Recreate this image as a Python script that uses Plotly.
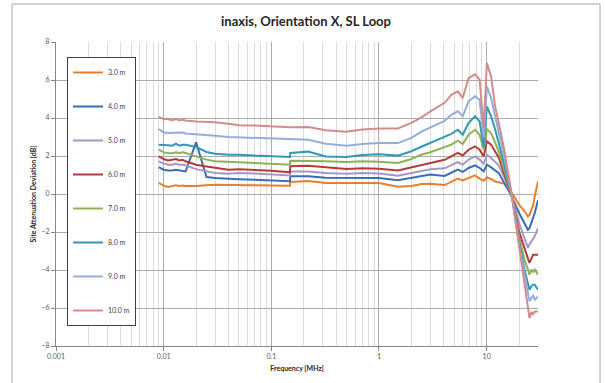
import plotly.graph_objects as go
import math

# Frequency points (MHz)
freq_mhz = [0.009, 0.01, 0.011, 0.012, 0.013, 0.014, 0.015, 0.016, 0.02, 0.025,
            0.03, 0.04, 0.05, 0.07, 0.1, 0.149, 0.15, 0.22, 0.32, 0.5,
            0.7, 1.0, 1.5, 2.0, 2.5, 3.0, 4.07, 4.7, 5.4, 6.0,
            6.8, 7.8, 8.6, 9.4, 10.05, 11.0, 12.0, 13.0, 14.5, 17.0,
            20.0, 22.5, 24.2, 25.0, 26.1, 27.0, 28.0, 30.0]

dev_3m = [0.58, 0.44, 0.37, 0.42, 0.46, 0.42, 0.45, 0.42, 0.42, 0.46,
          0.49, 0.47, 0.47, 0.47, 0.45, 0.44, 0.63, 0.68, 0.58, 0.58,
          0.60, 0.58, 0.38, 0.42, 0.52, 0.54, 0.47, 0.63, 0.81, 0.72,
          0.84, 0.98, 0.81, 0.70, 0.88, 0.79, 0.66, 0.60, 0.55, 0.10,
          -0.56, -0.91, -1.18, -1.10, -0.83, -0.60, -0.12, 0.66]

dev_4m = [1.42, 1.28, 1.24, 1.24, 1.28, 1.24, 1.24, 1.19, 2.72, 0.89,
          0.84, 0.79, 0.78, 0.75, 0.72, 0.67, 0.93, 0.93, 0.86, 0.86,
          0.87, 0.84, 0.72, 0.84, 0.96, 1.02, 0.95, 1.10, 1.28, 1.16,
          1.37, 1.51, 1.37, 1.19, 1.54, 1.40, 1.25, 1.10, 0.60, -0.10,
          -1.00, -1.50, -1.88, -1.80, -1.53, -1.30, -1.00, -0.33]

dev_5m = [1.72, 1.60, 1.54, 1.54, 1.60, 1.54, 1.54, 1.50, 1.31, 1.19,
          1.10, 1.07, 1.10, 1.08, 1.05, 0.98, 1.19, 1.19, 1.11, 1.07,
          1.11, 1.08, 0.96, 1.10, 1.22, 1.30, 1.35, 1.54, 1.68, 1.54,
          1.81, 1.98, 1.81, 1.58, 2.07, 1.89, 1.70, 1.50, 0.90, -0.05,
          -1.53, -2.30, -2.84, -2.65, -2.49, -2.35, -2.23, -1.79]

dev_6m = [1.98, 1.84, 1.77, 1.80, 1.84, 1.77, 1.80, 1.72, 1.54, 1.45,
          1.37, 1.28, 1.30, 1.27, 1.23, 1.14, 1.46, 1.49, 1.40, 1.32,
          1.35, 1.33, 1.24, 1.40, 1.55, 1.65, 1.80, 1.98, 2.16, 2.03,
          2.33, 2.51, 2.33, 1.98, 2.77, 2.60, 2.20, 1.90, 1.10, 0.00,
          -1.97, -2.93, -3.40, -3.63, -3.35, -3.20, -3.20, -3.20]

dev_7m = [2.33, 2.19, 2.16, 2.14, 2.19, 2.16, 2.19, 2.16, 1.98, 1.81,
          1.72, 1.67, 1.67, 1.63, 1.60, 1.54, 1.75, 1.75, 1.72, 1.68,
          1.72, 1.70, 1.63, 1.84, 2.08, 2.20, 2.45, 2.60, 2.81, 2.63,
          3.12, 3.38, 3.12, 2.33, 3.43, 3.20, 2.70, 2.20, 1.30, 0.05,
          -2.23, -3.46, -3.98, -4.25, -3.98, -4.10, -3.98, -4.25]

dev_8m = [2.59, 2.59, 2.56, 2.54, 2.65, 2.54, 2.59, 2.59, 2.47, 2.21,
          2.12, 2.07, 2.07, 2.02, 1.98, 1.95, 2.16, 2.23, 1.98, 1.95,
          2.05, 2.09, 2.02, 2.25, 2.50, 2.70, 3.00, 3.16, 3.38, 3.12,
          3.74, 4.09, 3.82, 2.50, 4.61, 4.09, 3.40, 2.70, 1.60, 0.05,
          -2.49, -3.98, -4.69, -5.04, -4.85, -4.77, -4.77, -5.04]

dev_9m = [3.42, 3.24, 3.21, 3.21, 3.24, 3.21, 3.24, 3.19, 3.16, 3.12,
          3.07, 3.00, 2.98, 2.95, 2.91, 2.86, 2.86, 2.86, 2.65, 2.54,
          2.63, 2.68, 2.68, 2.95, 3.30, 3.50, 3.85, 4.17, 4.35, 4.09,
          4.88, 5.14, 4.96, 2.95, 5.66, 5.05, 4.00, 3.20, 2.00, 0.05,
          -2.67, -4.33, -5.30, -5.65, -5.45, -5.35, -5.56, -5.39]

dev_10m = [4.05, 3.95, 3.95, 3.87, 3.95, 3.87, 3.91, 3.87, 3.82, 3.80,
           3.77, 3.70, 3.62, 3.60, 3.56, 3.51, 3.51, 3.53, 3.35, 3.28,
           3.39, 3.45, 3.45, 3.74, 4.05, 4.35, 4.80, 5.22, 5.40, 5.05,
           6.10, 6.30, 6.02, 3.50, 6.89, 6.19, 4.60, 3.70, 2.40, 0.05,
           -2.84, -4.86, -6.09, -6.53, -6.20, -6.35, -6.18, -6.18]

series_names = ["3.0 m", "4.0 m", "5.0 m", "6.0 m", "7.0 m", "8.0 m", "9.0 m", "10.0 m"]
series_values = [dev_3m, dev_4m, dev_5m, dev_6m, dev_7m, dev_8m, dev_9m, dev_10m]
series_colors = ["#E97F2E", "#3B6CB4", "#A597C7", "#B13C3A",
                 "#8DB255", "#3399B3", "#93AEDB", "#D38C8C"]

x_tick_vals = [0.001, 0.01, 0.1, 1, 10]
x_tick_text = ["0.001", "0.01", "0.1", "1", "10"]
y_tick_vals = [-8, -6, -4, -2, 0, 2, 4, 6, 8]

FONT = "Lato, 'Open Sans', sans-serif"

fig = go.Figure()
for name, vals, col in zip(series_names, series_values, series_colors):
    fig.add_trace(go.Scatter(
        x=freq_mhz, y=vals, mode="lines", name=name, legendgroup=name,
        line=dict(color=col, width=2),
    ))

minor_vals = [m * 10 ** d for d in range(-3, 2) for m in range(2, 10) if m * 10 ** d <= 30]

W, H = 605, 383
L, R, T, B = 56, 67, 42, 37
pw, ph = W - L - R, H - T - B

fig.update_layout(
    width=W, height=H,
    margin=dict(l=L, r=R, t=T, b=B),
    paper_bgcolor="white", plot_bgcolor="white",
    font=dict(family=FONT, size=7, color="#595959"),
    title=dict(text="<b>inaxis, Orientation X, SL Loop</b>",
               x=306 / W, xanchor="center", y=1 - 21 / H, yanchor="middle",
               font=dict(family=FONT, size=13, color="#262626")),
    xaxis=dict(
        type="log", range=[math.log10(0.001), math.log10(30)],
        tickvals=x_tick_vals, ticktext=x_tick_text,
        showgrid=True, gridcolor="#ABABAB", gridwidth=1,
        minor=dict(tickvals=minor_vals, showgrid=True, gridcolor="#DCDCDC", gridwidth=1),
        showline=True, linecolor="#868686", linewidth=1,
        ticks="outside", ticklen=4, tickcolor="#868686",
        zeroline=False,
        title=dict(text="<b>Frequency [MHz]</b>", standoff=6,
                   font=dict(family=FONT, size=7, color="#262626")),
    ),
    yaxis=dict(
        range=[-8, 8], tickvals=y_tick_vals,
        showgrid=True, gridcolor="#ABABAB", gridwidth=1,
        showline=True, linecolor="#868686", linewidth=1,
        ticks="outside", ticklen=4, tickcolor="#868686",
        zeroline=False,
        title=dict(text="<b>Site Attenuation Deviation [dB]</b>", standoff=4,
                   font=dict(family=FONT, size=7, color="#262626")),
    ),
    legend=dict(
        x=(67 - L) / pw, y=(H - B - 57) / ph, xanchor="left", yanchor="top",
        bgcolor="white", bordercolor="#404040", borderwidth=1,
        font=dict(family=FONT, size=7, color="#404040"),
        tracegroupgap=15, itemwidth=30, traceorder="grouped",
    ),
    shapes=[dict(type="rect", xref="paper", yref="paper",
                 x0=(12 - L) / pw, x1=(600 - L) / pw,
                 y0=-0.3, y1=(H - B - 4) / ph,
                 line=dict(color="#A6A6A6", width=1), fillcolor="rgba(0,0,0,0)",
                 layer="below")],
)

fig.write_html("out.html")
